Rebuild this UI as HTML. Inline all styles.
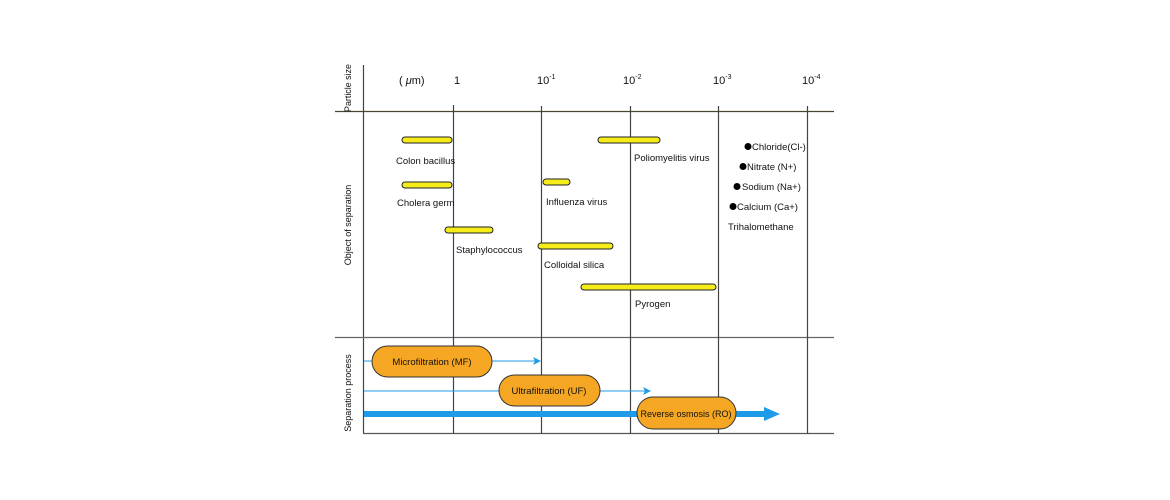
<!DOCTYPE html>
<html><head><meta charset="utf-8"><style>
html,body{margin:0;padding:0;background:#fff;}
svg{display:block;font-family:"Liberation Sans",Arial,sans-serif;}
</style></head><body>
<svg width="1170" height="500" viewBox="0 0 1170 500" xmlns="http://www.w3.org/2000/svg">
<defs>
<marker id="ah" markerWidth="8" markerHeight="8" refX="7" refY="4" orient="auto" markerUnits="userSpaceOnUse"><path d="M0,0 L8,4 L0,8 L2,4 Z" fill="#1e9be8"/></marker>
</defs>
<g stroke="#444" stroke-width="1.2" fill="none">
<line x1="363.5" y1="65" x2="363.5" y2="434"/>
<line x1="335" y1="111.5" x2="834" y2="111.5" stroke="#4a4630"/>
<line x1="335" y1="337.5" x2="834" y2="337.5" stroke="#666"/>
<line x1="363" y1="433.5" x2="834" y2="433.5" stroke="#555"/>
<line x1="453.5" y1="105" x2="453.5" y2="434" stroke="#3a3a80"/>
<line x1="541.5" y1="106" x2="541.5" y2="434"/>
<line x1="630.5" y1="106" x2="630.5" y2="434"/>
<line x1="718.5" y1="106" x2="718.5" y2="434"/>
<line x1="807.5" y1="106" x2="807.5" y2="434"/>
</g>
<g font-size="9" fill="#111" text-anchor="middle">
<text transform="translate(351,88) rotate(-90)" textLength="48" lengthAdjust="spacingAndGlyphs">Particle size</text>
<text transform="translate(351,225) rotate(-90)">Object of separation</text>
<text transform="translate(351,393) rotate(-90)">Separation process</text>
</g>
<g font-size="11" fill="#111">
<text x="399" y="84">( <tspan font-style="italic">μ</tspan>m)</text>
<text x="454" y="84">1</text>
<text x="537" y="84">10<tspan font-size="7" dy="-5">-1</tspan></text>
<text x="623" y="84">10<tspan font-size="7" dy="-5">-2</tspan></text>
<text x="713" y="84">10<tspan font-size="7" dy="-5">-3</tspan></text>
<text x="802" y="84">10<tspan font-size="7" dy="-5">-4</tspan></text>
</g>
<g fill="#f5ec1a" stroke="#222" stroke-width="1">
<rect x="402" y="137" width="50" height="6" rx="3"/>
<rect x="402" y="182" width="50" height="6" rx="3"/>
<rect x="598" y="137" width="62" height="6" rx="3"/>
<rect x="543" y="179" width="27" height="6" rx="3"/>
<rect x="445" y="227" width="48" height="6" rx="3"/>
<rect x="538" y="243" width="75" height="6" rx="3"/>
<rect x="581" y="284" width="135" height="6" rx="3"/>
</g>
<g font-size="9.5" fill="#111">
<text x="396" y="164">Colon bacillus</text>
<text x="397" y="206">Cholera germ</text>
<text x="634" y="161">Poliomyelitis virus</text>
<text x="546" y="205">Influenza virus</text>
<text x="456" y="253">Staphylococcus</text>
<text x="544" y="268">Colloidal silica</text>
<text x="635" y="307">Pyrogen</text>
<text x="752" y="150">Chloride(Cl-)</text>
<text x="747" y="170">Nitrate (N+)</text>
<text x="742" y="190">Sodium (Na+)</text>
<text x="737" y="210">Calcium (Ca+)</text>
<text x="728" y="230">Trihalomethane</text>
</g>
<g fill="#000">
<circle cx="748" cy="146.5" r="3.5"/>
<circle cx="743" cy="166.5" r="3.5"/>
<circle cx="737" cy="186.5" r="3.5"/>
<circle cx="733" cy="206.5" r="3.5"/>
</g>
<line x1="364" y1="361" x2="540" y2="361" stroke="#1e9be8" stroke-width="1" marker-end="url(#ah)"/>
<line x1="364" y1="391" x2="650" y2="391" stroke="#1e9be8" stroke-width="1" marker-end="url(#ah)"/>
<line x1="364" y1="414" x2="765" y2="414" stroke="#1e9be8" stroke-width="6"/>
<path d="M764,407 L780,414 L764,421 Z" fill="#1e9be8"/>
<g fill="#f5a623" stroke="#333" stroke-width="1">
<rect x="372" y="346" width="120" height="31" rx="15.5"/>
<rect x="499" y="375" width="101" height="31" rx="15.5"/>
<rect x="637" y="397" width="99" height="32" rx="16"/>
</g>
<g font-size="9.5" fill="#111" text-anchor="middle">
<text x="432" y="365">Microfiltration (MF)</text>
<text x="549" y="394">Ultrafiltration (UF)</text>
<text x="686" y="417" font-size="9">Reverse osmosis (RO)</text>
</g>
</svg>
</body></html>
